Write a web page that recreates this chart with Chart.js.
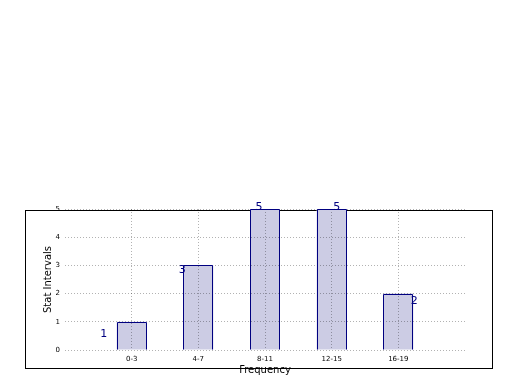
<!DOCTYPE html>
<html>
<head>
<meta charset="utf-8">
<script src="https://cdn.jsdelivr.net/npm/chart.js@4/dist/chart.umd.min.js"></script>
<style>
  html, body { margin: 0; padding: 0; background: #fff; }
  #wrap { width: 520px; height: 390px; }
</style>
</head>
<body>
<div id="wrap"><canvas id="freqChart"></canvas></div>
<script>
const categories = ['0-3', '4-7', '8-11', '12-15', '16-19'];
const counts = [1, 3, 5, 5, 2];
const yTicks = [0, 1, 2, 3, 4, 5];

// empty slots at both ends so the axis runs one step past the first and last bar
const labels = [''].concat(categories, ['']);
const barData = [null].concat(counts, [null]);

// where the count labels sit relative to each bar top (px)
const labelShift = [[-28, 12], [-16, 5], [-6, -2], [5, -2], [16, 8]];

const framePlugin = {
    id: 'frame',
    beforeDraw(chart) {
        const c = chart.ctx;
        c.save();
        c.strokeStyle = '#000';
        c.lineWidth = 1;
        c.strokeRect(25.5, 210.5, 467, 158);
        c.restore();
    }
};

// crisp navy outline on each bar, snapped to the pixel grid
const barOutline = {
    id: 'barOutline',
    afterDraw(chart) {
        const c = chart.ctx;
        const bars = chart.getDatasetMeta(0).data;
        c.save();
        c.strokeStyle = '#000080';
        c.lineWidth = 1;
        bars.forEach((bar, i) => {
            if (barData[i] == null) return;
            const l = Math.round(bar.x - bar.width / 2) + 0.5;
            const r = Math.round(bar.x + bar.width / 2) - 0.5;
            const t = Math.round(bar.y) + 0.5;
            const b = Math.round(bar.base) - 0.5;
            c.beginPath();
            c.moveTo(l, b);
            c.lineTo(l, t);
            c.lineTo(r, t);
            c.lineTo(r, b);
            c.stroke();
        });
        c.restore();
    }
};

const countLabels = {
    id: 'countLabels',
    afterDraw(chart) {
        const c = chart.ctx;
        const bars = chart.getDatasetMeta(0).data;
        c.save();
        c.fillStyle = '#000080';
        c.font = '11px "DejaVu Sans"';
        c.textAlign = 'center';
        c.textBaseline = 'middle';
        counts.forEach((v, i) => {
            const bar = bars[i + 1];
            c.fillText(String(v), bar.x + labelShift[i][0], bar.y + labelShift[i][1]);
        });
        c.restore();
    }
};

const gridColor = (ctx) => {
    const i = ctx.index;
    return (i === 0 || i === labels.length - 1) ? 'rgba(0,0,0,0)' : 'rgba(0,0,0,0.3)';
};

const ctx = document.getElementById('freqChart').getContext('2d');
const freqChart = new Chart(ctx, {
    type: 'bar',
    data: {
        labels: labels,
        datasets: [{
            data: barData,
            backgroundColor: 'rgb(204, 204, 228)',
            borderWidth: 0,
            barPercentage: 0.45,
            categoryPercentage: 1
        }]
    },
    options: {
        responsive: true,
        maintainAspectRatio: false,
        animation: false,
        layout: { padding: { top: 209, right: 55, left: 0, bottom: 0 } },
        plugins: {
            legend: { display: false },
            tooltip: { enabled: false }
        },
        scales: {
            x: {
                offset: false,
                afterFit(s) { s.height = 40; },
                border: { display: false, dash: [1, 2] },
                grid: { offset: false, color: gridColor, drawTicks: false, lineWidth: 1, z: 1 },
                ticks: { padding: 5, color: '#000', font: { family: 'DejaVu Sans', size: 7 }, maxRotation: 0, autoSkip: false },
                title: {
                    display: true,
                    text: 'Frequency',
                    color: '#000',
                    font: { family: 'DejaVu Sans', size: 10 },
                    padding: { top: 0, bottom: 14 }
                }
            },
            y: {
                min: 0,
                max: 5,
                afterFit(s) { s.width = 65; },
                afterBuildTicks(s) { s.ticks = yTicks.map(v => ({ value: v })); },
                border: { display: false, dash: [1, 2] },
                grid: { color: 'rgba(0,0,0,0.3)', drawTicks: false, lineWidth: 1, z: 1 },
                ticks: { padding: 5, color: '#000', font: { family: 'DejaVu Sans', size: 7 } },
                title: {
                    display: true,
                    text: 'Stat Intervals',
                    color: '#000',
                    font: { family: 'DejaVu Sans', size: 10 },
                    padding: { top: 42, bottom: 0 }
                }
            }
        }
    },
    plugins: [framePlugin, barOutline, countLabels]
});
</script>
</body>
</html>
